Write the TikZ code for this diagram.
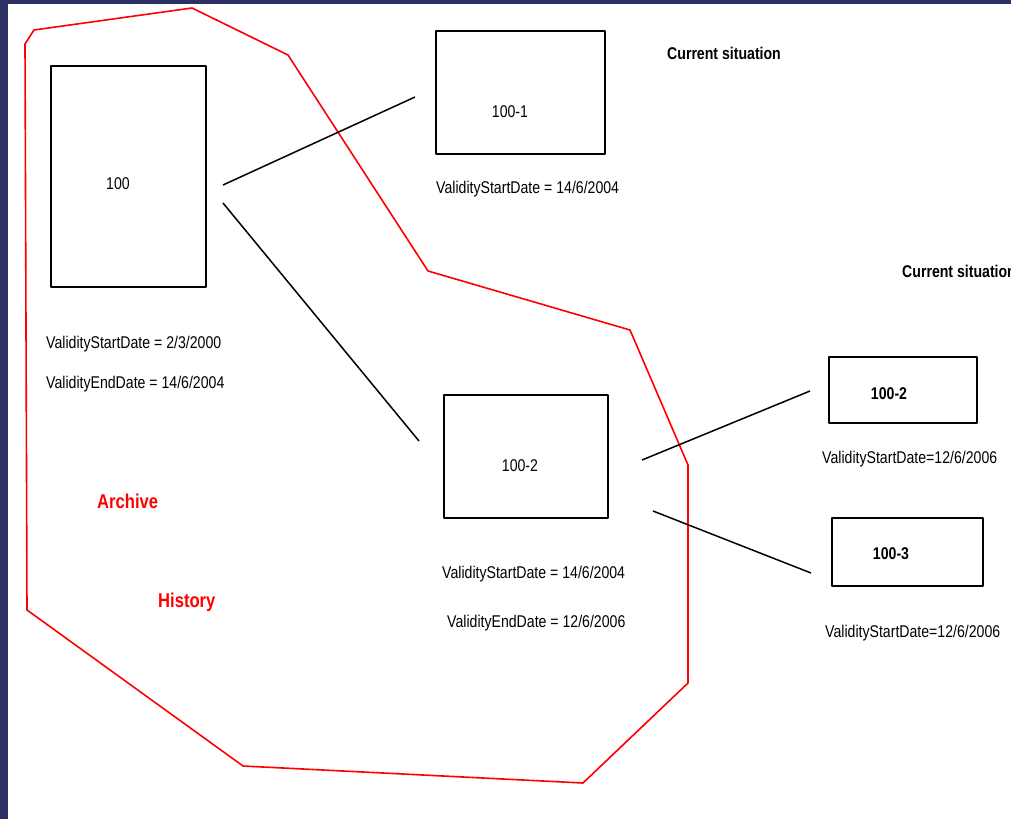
\documentclass[tikz,border=0pt]{standalone}
\usepackage{fontspec}
\setmainfont{Liberation Sans}[FakeStretch=0.83]
\usetikzlibrary{positioning}
\definecolor{slideblue}{RGB}{46,49,100}
\newcommand \myrecord[5]
{
\node[recbox, minimum width=#4, minimum height=#5] (#1) at (#2,#3) {};
}

\begin{document}
\begin{tikzpicture}[x=1pt, y=-1pt, line join=round,
  recbox/.style={draw, line width=2pt, inner sep=0pt},
  txt/.style={anchor=base west, inner sep=0pt, font=\fontsize{17}{20}\selectfont},
  idtxt/.style={anchor=base, inner sep=0pt, font=\fontsize{17}{20}\selectfont},
  redtxt/.style={anchor=base west, inner sep=0pt, text=red, font=\fontsize{20}{24}\selectfont\bfseries},
  link/.style={line width=1.5pt}]
\useasboundingbox (0,0) rectangle (1011,819);
\clip (0,0) rectangle (1011,819);
\fill[white] (0,0) rectangle (1011,819);
\fill[slideblue] (0,0) rectangle (1011,4);
\fill[slideblue] (0,0) rectangle (8,819);
% archive border
\draw[red, line width=1.6pt] (25,44)--(34,30)--(192,8)--(288,55)--(428,271)--(630,330)--(688,465)
  --(688,683)--(583,783)--(243,766)--(27,610)--cycle;
% records
\myrecord{r100}{128.5}{176.5}{155pt}{221pt}
\myrecord{r1001}{520}{92.5}{169pt}{123pt}
\myrecord{r1002}{526}{456.5}{164pt}{123pt}
\myrecord{n1002}{903}{390}{148pt}{66pt}
\myrecord{n1003}{907.5}{552}{151pt}{68pt}
\node[idtxt] (l100)  at (118,189) {100};
\node[idtxt] (l1001) at (510,117) {100-1};
\node[idtxt] (l1002) at (520,471) {100-2};
\node[idtxt, font=\fontsize{17}{20}\selectfont\bfseries] (m1002) at (889,399) {100-2};
\node[idtxt, font=\fontsize{17}{20}\selectfont\bfseries] (m1003) at (891,559) {100-3};
% dates
\node[txt] (s100)  at (46,348)  {ValidityStartDate = 2/3/2000};
\node[txt] (e100)  at (46,388)  {ValidityEndDate = 14/6/2004};
\node[txt] (s1001) at (436,193) {ValidityStartDate = 14/6/2004};
\node[txt] (s1002) at (442,578) {ValidityStartDate = 14/6/2004};
\node[txt] (e1002) at (447,627) {ValidityEndDate = 12/6/2006};
\node[txt] (t1002) at (822,463) {ValidityStartDate=12/6/2006};
\node[txt] (t1003) at (825,637) {ValidityStartDate=12/6/2006};
\node[txt, font=\fontsize{17}{20}\selectfont\bfseries] (cur1) at (667,59)  {Current situation};
\node[txt, font=\fontsize{17}{20}\selectfont\bfseries] (cur2) at (902,277) {Current situation};
\node[redtxt] (arch) at (97,508)  {Archive};
\node[redtxt] (hist) at (158,607) {History};
% links
\coordinate (a1) at (223,185);
\coordinate (a2) at (415,97);
\coordinate (b1) at (223,203);
\coordinate (b2) at (419,441);
\coordinate (c1) at (642,460);
\coordinate (c2) at (810,391);
\coordinate (d1) at (653,511);
\coordinate (d2) at (811,573);
\draw[link] (a1)--(a2);
\draw[link] (b1)--(b2);
\draw[link] (c1)--(c2);
\draw[link] (d1)--(d2);
\end{tikzpicture}
\end{document}
